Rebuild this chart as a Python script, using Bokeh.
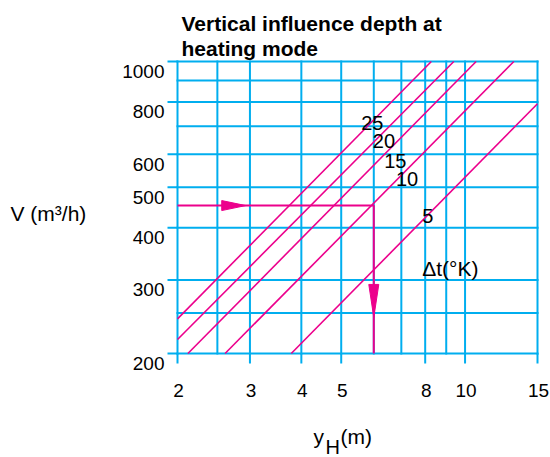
import math
from bokeh.plotting import figure
from bokeh.models import Label
from bokeh.core.properties import value
from bokeh.embed import file_html
from bokeh.resources import INLINE

BLUE = "#00AEEF"
MAGENTA = "#EC008C"
FONT = "Liberation Sans"

# ---- data -------------------------------------------------------------
x_ticks = [2, 3, 4, 5, 8, 10, 15]                 # y_H (m)
y_ticks = [200, 300, 400, 500, 600, 800, 1000]    # V (m3/h)
x_grid = [2, 2.5, 3, 4, 5, 6, 7, 8, 9, 10, 15]
y_grid = [200, 250, 300, 400, 500, 600, 700, 800, 900, 1000]

dt_labels = ["25", "20", "15", "10", "5"]        # delta t (K)
line_x0 = [2.0, 2.0, 2.12, 2.61, 3.78]
line_y0 = [242, 216, 200, 200, 200]
line_x1 = [8.28, 9.39, 10.64, 13.14, 15.0]
line_y1 = [1000, 1000, 1000, 1000, 792]
label_x = [5.95, 6.35, 6.77, 7.23, 8.12]
label_y = [712, 645, 577, 524, 426]

unit_label = ["Δt(°K)"]
unit_x = [7.87]
unit_y = [319]

example_yH = 6
example_V = 452
arrow_tip_x = [2.93, 6]
arrow_tip_y = [452, 244]
arrow_dir = ["right", "down"]

X_MIN, X_MAX = 2, 15
Y_MIN, Y_MAX = 200, 1000

# ---- layout (pixels) -----------------------------------------------------
W, H = 550, 457
F_LEFT, F_RIGHT, F_TOP, F_BOTTOM = 177, 537, 61, 353
sx = (F_RIGHT - F_LEFT) / math.log10(X_MAX / X_MIN)
sy = (F_BOTTOM - F_TOP) / math.log10(Y_MAX / Y_MIN)
x_start = 10 ** (math.log10(X_MIN) - F_LEFT / sx)
x_end = 10 ** (math.log10(X_MIN) + (W - F_LEFT) / sx)
y_end = 10 ** (math.log10(Y_MAX) + F_TOP / sy)
y_start = 10 ** (math.log10(Y_MAX) - (H - F_TOP) / sy)

p = figure(width=W, height=H, x_axis_type="log", y_axis_type="log",
           x_range=(x_start, x_end), y_range=(y_start, y_end),
           x_axis_location=None, y_axis_location=None,
           output_backend="svg", toolbar_location=None, title=None,
           min_border=0)
p.grid.visible = False
p.outline_line_color = None
p.background_fill_color = "white"
p.border_fill_color = "white"

# grid (frame included)
p.segment(x0=x_grid, y0=[Y_MIN] * len(x_grid), x1=x_grid, y1=[Y_MAX] * len(x_grid),
          line_color=BLUE, line_width=2, line_cap="square")
p.segment(x0=[X_MIN] * len(y_grid), y0=y_grid, x1=[X_MAX] * len(y_grid), y1=y_grid,
          line_color=BLUE, line_width=2, line_cap="square")

# axis ticks (outward, 10 px)
p.ray(x=x_ticks, y=[Y_MIN] * len(x_ticks), length=10, length_units="screen",
      angle=-math.pi / 2, line_color=BLUE, line_width=2)
p.ray(x=[X_MIN] * len(y_ticks), y=y_ticks, length=10, length_units="screen",
      angle=math.pi, line_color=BLUE, line_width=2)

# tick labels
p.text(x=x_ticks, y=[Y_MIN] * len(x_ticks), text=[str(t) for t in x_ticks],
       x_offset=1, y_offset=37, text_align="center", text_baseline="alphabetic",
       text_font=value(FONT), text_font_size="19px", text_color="black")
p.text(x=[X_MIN] * len(y_ticks), y=y_ticks, text=[str(t) for t in y_ticks],
       x_offset=-13, y_offset=10, text_align="right", text_baseline="alphabetic",
       text_font=value(FONT), text_font_size="19px", text_color="black")

# delta-t lines
p.segment(x0=line_x0, y0=line_y0, x1=line_x1, y1=line_y1,
          line_color=MAGENTA, line_width=1.6)

# example path
p.line(x=[X_MIN, example_yH, example_yH], y=[example_V, example_V, Y_MIN],
       line_color=MAGENTA, line_width=2)

# arrow heads (shape in pixels, converted to log data space)
HEAD_HALF = 5
xs, ys = [], []
for tx, ty, d in zip(arrow_tip_x, arrow_tip_y, arrow_dir):
    if d == "right":
        bx = tx / 10 ** (24 / sx)
        f = 10 ** (HEAD_HALF / sy)
        xs.append([tx, bx, bx])
        ys.append([ty, ty * f, ty / f])
    else:
        by = ty * 10 ** (33 / sy)
        f = 10 ** (HEAD_HALF / sx)
        xs.append([tx, tx * f, tx / f])
        ys.append([ty, by, by])
p.patches(xs=xs, ys=ys, fill_color=MAGENTA, line_color=MAGENTA, line_width=1)

# curve labels
p.text(x=label_x, y=label_y, text=dt_labels, text_font=value(FONT),
       text_font_size="20px", text_align="center", text_baseline="middle",
       text_color="black")
p.text(x=unit_x, y=unit_y, text=unit_label, text_font=value(FONT),
       text_font_size="21px", text_align="left", text_baseline="alphabetic",
       text_color="black")

# titles & axis labels (screen units: x from left, y from bottom)
def lab(text, x, baseline_from_top, size, style="normal"):
    p.add_layout(Label(x=x, y=H - baseline_from_top, x_units="screen", y_units="screen",
                       text=text, text_font=FONT, text_font_size=size,
                       text_font_style=style, text_align="left",
                       text_baseline="alphabetic", text_color="black"))

lab("Vertical influence depth at", 181, 23.3, "21px", "bold")
lab("heating mode", 181, 48.3, "21px", "bold")
lab("V (m³/h)", 10, 213, "21px")
lab("y", 313, 436, "21px")
lab("H", 325, 446, "20px")
lab("(m)", 340, 436, "21px")

open("out.html", "w").write(file_html(p, INLINE))
